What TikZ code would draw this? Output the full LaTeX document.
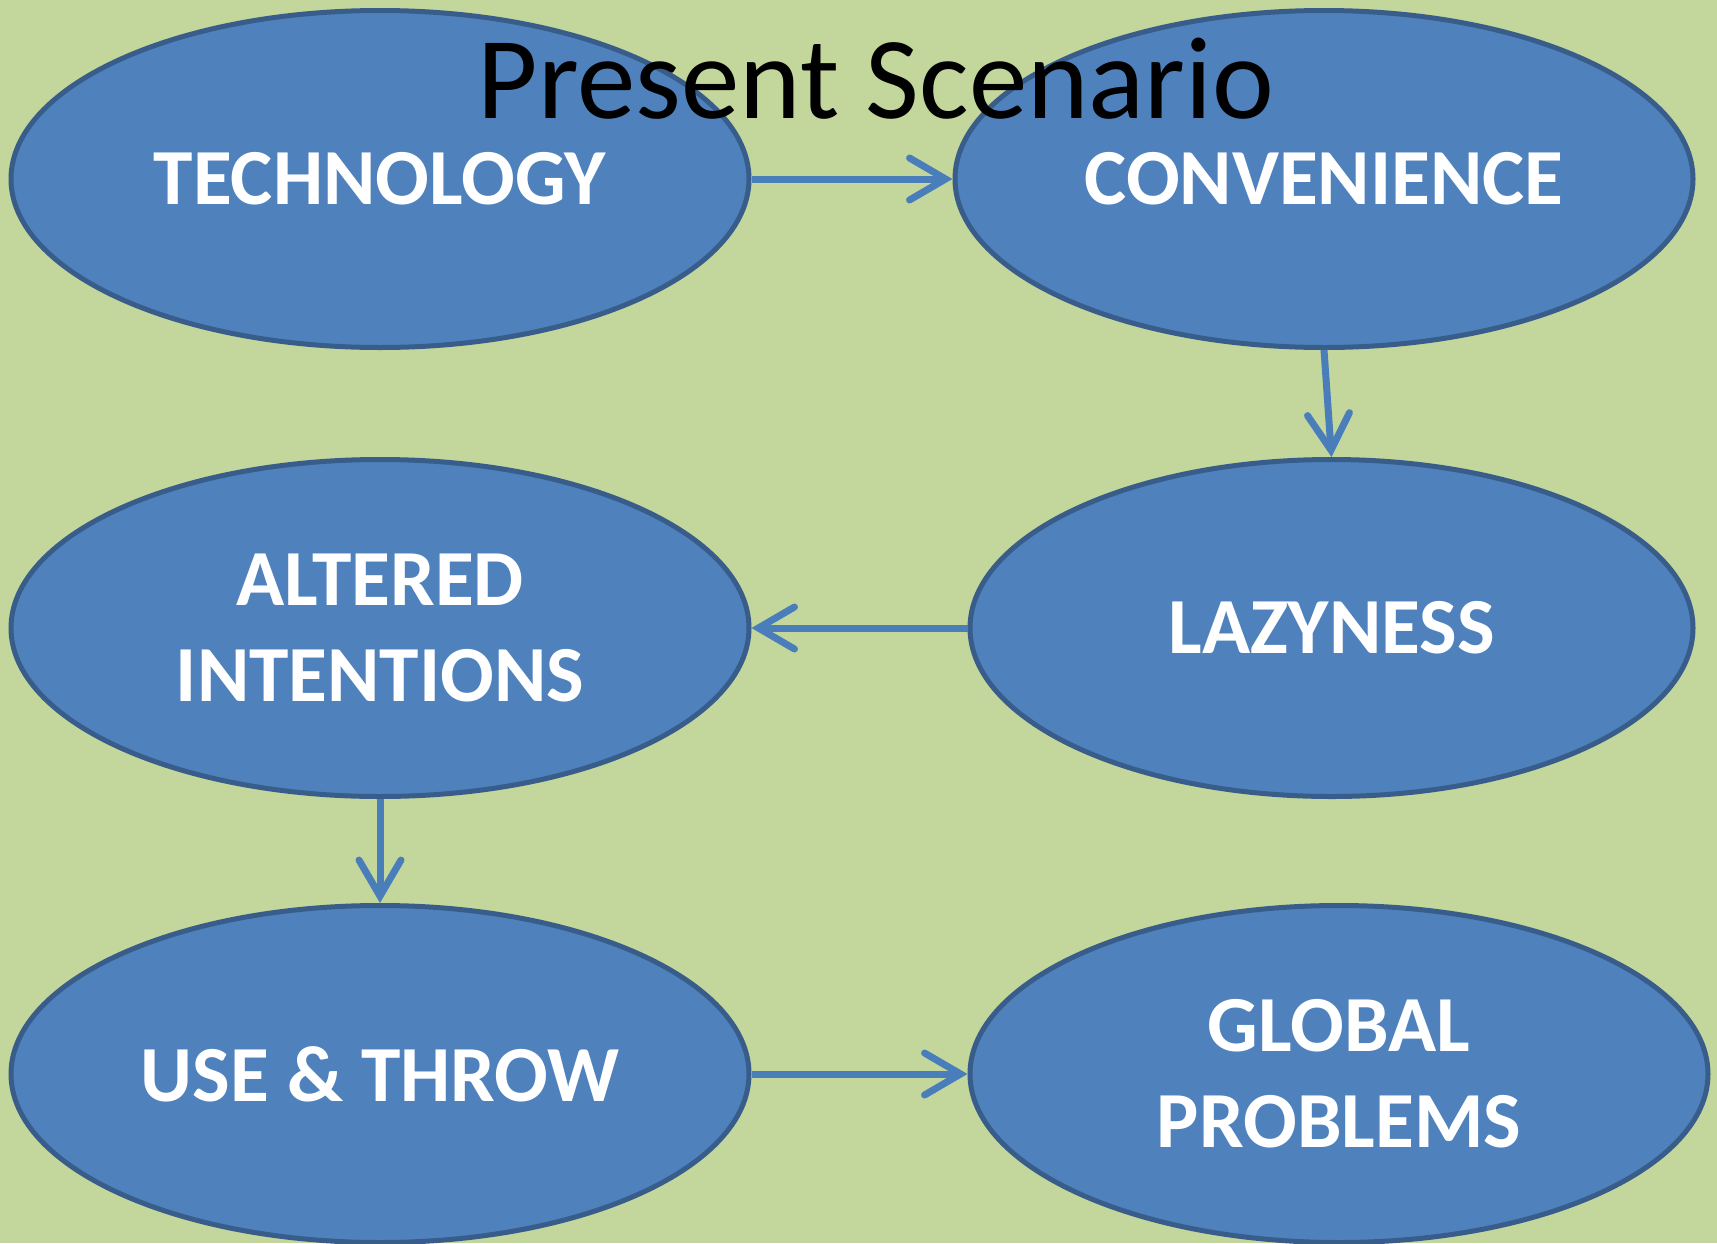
\documentclass[tikz,border=0pt]{standalone}
\usepackage{fontspec}
\setmainfont{Carlito}
\usepackage{xcolor}
\usepackage{tikz}
\usetikzlibrary{arrows.meta,shapes.geometric}
\definecolor{sceneback}{HTML}{C3D69B}
\definecolor{blobfill}{HTML}{4F81BD}
\definecolor{blobline}{HTML}{385D8A}
\definecolor{linkblue}{HTML}{4A7EBB}

\begin{document}
\begin{tikzpicture}[
    x=1pt, y=-1pt,
    blob/.style={
        ellipse, draw=blobline, fill=blobfill, line width=5pt,
        inner sep=0, minimum height=337pt, text=white, align=center,
        font=\fontsize{79.5}{96}\selectfont\bfseries},
    wide/.style={minimum width=738pt},
    narrow/.style={minimum width=723pt},
    link/.style={draw=linkblue, line width=7pt,
        -{Straight Barb[length=36pt, width=42pt, line cap=round]}},
    heading/.style={anchor=base, text=black, inner sep=0,
        font=\fontsize{117}{140}\selectfont}]
\fill[sceneback] (0,0) rectangle (1717,1243);
\useasboundingbox (0,0) rectangle (1717,1243);

% the six ellipses
\node[blob, wide]   (tech)     at (380,179)  {TECHNOLOGY};
\node[blob, wide]   (conv)     at (1324,179) {CONVENIENCE};
\node[blob, narrow] (lazy)     at (1331.5,628) {LAZYNESS};
\node[blob, wide]   (alter)    at (380,628)  {ALTERED\\INTENTIONS};
\node[blob, wide]   (usethrow) at (380,1074) {USE \& THROW};
\node[blob, wide]   (global)   at (1339,1074) {GLOBAL\\PROBLEMS};

% heading on top
\node[heading] (title) at (876,118) {Present Scenario};

% the chain
\path[link] (tech.east)     -- (conv.west);
\path[link] (conv.south)    -- (lazy.north);
\path[link] (lazy.west)     -- (alter.east);
\path[link] (alter.south)   -- (usethrow.north);
\path[link] (usethrow.east) -- (global.west);

\end{tikzpicture}
\end{document}
